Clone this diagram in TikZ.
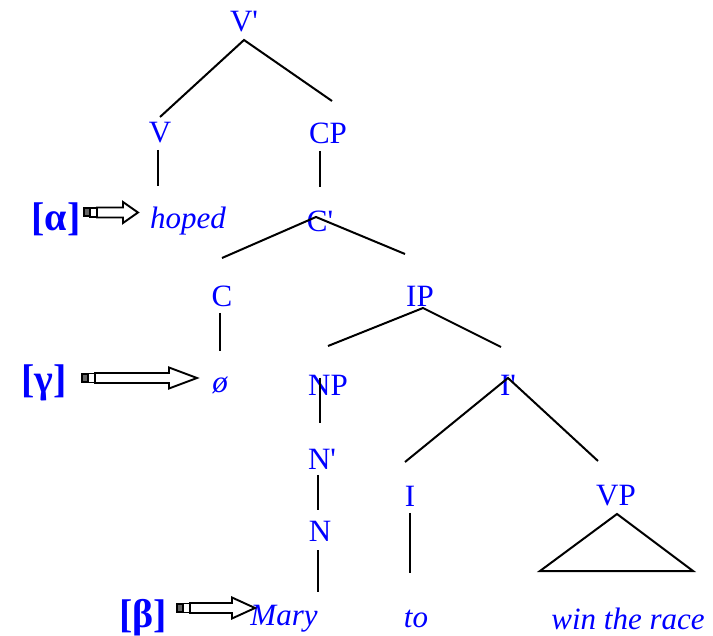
\documentclass[tikz,border=0pt]{standalone}
\usepackage{fontspec}
\setmainfont{Liberation Serif}
\definecolor{lblue}{RGB}{0,0,255}
\newcommand\pr{\textquotesingle}
\newcommand\blockarrow[4]{% x, y, length, head length
  \begin{scope}[shift={(#1,#2)}]
    \draw[line width=2pt, fill=black!60] (0,-4) rectangle (6,4);
    \draw[line width=1.9pt] (6,-4.5) rectangle (13,4.5);
    \draw[line width=1.9pt, line join=miter] (13,-5) -- ({#3-#4},-5) -- ({#3-#4},-10.5) -- (#3,0) -- ({#3-#4},10.5) -- ({#3-#4},5) -- (13,5) -- cycle;
  \end{scope}}
\tikzset{
  lab/.style={text=lblue, font=\fontsize{31}{35}\selectfont, inner sep=0pt},
  word/.style={text=lblue, font=\fontsize{31}{35}\selectfont\itshape, inner sep=0pt},
  glab/.style={text=lblue, font=\bfseries\fontsize{40}{44}\selectfont, inner sep=0pt},
  branch/.style={line width=2pt, black}
}
\begin{document}
\begin{tikzpicture}[x=1pt,y=-1pt]
\useasboundingbox (0,0) rectangle (713,636);
% labels
\node[lab] (vbar) at (244,22) {V\pr};
\node[lab] (v) at (160,133) {V};
\node[lab] (cp) at (328,133) {CP};
\node[word] (hoped) at (188,221) {hoped};
\node[lab] (cbar) at (320,221) {C\pr};
\node[lab] (c) at (222,296) {C};
\node[lab] (ip) at (420,296) {IP};
\node[word] (null) at (220,385) {ø};
\node[lab] (np) at (328,385) {NP};
\node[lab] (ibar) at (508,385) {I\pr};
\node[lab] (nbar) at (322,459) {N\pr};
\node[lab] (i) at (410,496) {I};
\node[lab] (vp) at (616,496) {VP};
\node[lab] (n) at (320,531) {N};
\node[word] (mary) at (284,619) {Mary};
\node[word] (to) at (416,619) {to};
\node[word] (win) at (628,619) {win the race};
\node[glab] (alpha) at (56,219) {[α]};
\node[glab] (gamma) at (44,383) {[γ]};
\node[glab] (beta) at (143,618) {[β]};
% branch end points
\coordinate (vbarD) at (244,40);
\coordinate (vU) at (160,117);
\coordinate (cpU) at (332,101);
\coordinate (vD) at (158,150);
\coordinate (hopedU) at (158,186);
\coordinate (cpD) at (320,151);
\coordinate (cbarU) at (320,187);
\coordinate (cbarD) at (316,217);
\coordinate (cU) at (222,258);
\coordinate (ipU) at (405,254);
\coordinate (cD) at (220,313);
\coordinate (nullU) at (220,351);
\coordinate (ipD) at (423,308);
\coordinate (npU) at (328,346);
\coordinate (ibarU) at (501,347);
\coordinate (npD) at (320,378);
\coordinate (nbarU) at (320,423);
\coordinate (nbarD) at (318,475);
\coordinate (nU) at (318,510);
\coordinate (nD) at (318,550);
\coordinate (maryU) at (318,592);
\coordinate (ibarD) at (508,378);
\coordinate (iU) at (405,462);
\coordinate (vpU) at (598,461);
\coordinate (iD) at (410,513);
\coordinate (toU) at (410,573);
\coordinate (triTop) at (617,514);
\coordinate (triL) at (540,571);
\coordinate (triR) at (693,571);
\draw[branch] (vU) -- (vbarD) -- (cpU);
\draw[branch] (vD) -- (hopedU);
\draw[branch] (cpD) -- (cbarU);
\draw[branch] (cU) -- (cbarD) -- (ipU);
\draw[branch] (cD) -- (nullU);
\draw[branch] (npU) -- (ipD) -- (ibarU);
\draw[branch] (npD) -- (nbarU);
\draw[branch] (nbarD) -- (nU);
\draw[branch] (nD) -- (maryU);
\draw[branch] (iU) -- (ibarD) -- (vpU);
\draw[branch] (iD) -- (toU);
\draw[branch, line join=miter] (triTop) -- (triL) -- (triR) -- cycle;
% arrows
\blockarrow{84}{212.5}{54}{15}
\blockarrow{82}{378}{115}{28}
\blockarrow{177}{608}{78}{23}
\end{tikzpicture}
\end{document}
